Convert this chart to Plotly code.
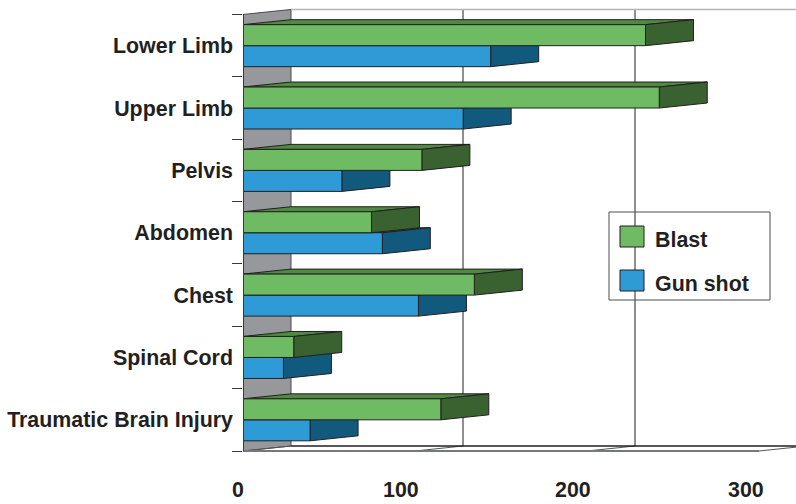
import plotly.graph_objects as go

categories = ["Traumatic Brain Injury", "Spinal Cord", "Chest", "Abdomen", "Pelvis", "Upper Limb", "Lower Limb"]
blast = [115, 29.5, 134.5, 74.7, 104, 242, 234]
gun_shot = [39, 23.5, 102, 81, 57.5, 128, 144]
x_ticks = [0, 100, 200, 300]
x_label_shift = [-5, -14, -14, -13]

PX_X = 1.72
PX_Y = 62.36
FLOOR_Y = 451
LEFT = 243
DX = 48 / PX_X
DY = 5 / PX_Y
BAR_H = 21 / PX_Y
INK = "#231f20"
TOP = 8
BOTTOM = 456
W, H = 796, 504
FONT_SIZE = 21.4

fig = go.Figure()


def poly(xs, ys, fill, line=INK, lw=1.0):
    fig.add_trace(go.Scatter(x=xs + xs[:1], y=ys + ys[:1], mode="lines", fill="toself", fillcolor=fill,
                             line=dict(color=line, width=lw), showlegend=False, hoverinfo="skip",
                             cliponaxis=False))


def seg(xs, ys, color=INK, lw=1.0):
    fig.add_trace(go.Scatter(x=xs, y=ys, mode="lines", line=dict(color=color, width=lw),
                             showlegend=False, hoverinfo="skip", cliponaxis=False))


n = len(categories)
# side wall
poly([0, DX, DX, 0], [0, DY, n + DY, n], "#97989b", "#4a4a4c", 1)
# back wall gridlines and floor
for t in x_ticks:
    if t:
        seg([t + DX, t + DX], [DY, n + DY], INK, 1)
    seg([t, t + DX], [0, DY], "#55565a", 1)
seg([DX, x_ticks[-1] + DX], [DY, DY], INK, 1.5)
seg([DX, x_ticks[-1] + DX], [n + DY, n + DY], "#b5b5b5", 1.5)
seg([0, x_ticks[-1]], [0, 0], "#77787b", 2)


def bar(v, y0, y1, front, top, side):
    poly([0, DX, v + DX, v], [y1, y1 + DY, y1 + DY, y1], top)
    poly([v, v + DX, v + DX, v], [y0, y0 + DY, y1 + DY, y1], side)
    poly([0, v, v, 0], [y0, y0, y1, y1], front)


for i in range(n):
    c = i + 0.5
    bar(gun_shot[i], c - BAR_H, c, "#2f9bd6", "#1d7199", "#125a7d")
    bar(blast[i], c, c + BAR_H, "#6fbb63", "#4f8a42", "#3a6130")

seg([0, 0], [0, n], "#3a3a3c", 2)

fig.update_layout(
    width=W, height=H, autosize=False,
    margin=dict(l=LEFT, r=0, t=TOP, b=H - BOTTOM, pad=0),
    paper_bgcolor="white", plot_bgcolor="rgba(0,0,0,0)",
    font=dict(family="Liberation Sans", color=INK),
    showlegend=False,
    xaxis=dict(range=[0, (W - LEFT) / PX_X], showgrid=False, zeroline=False, showticklabels=False, ticks=""),
    yaxis=dict(range=[(FLOOR_Y - BOTTOM) / PX_Y, (FLOOR_Y - TOP) / PX_Y], showgrid=False, zeroline=False,
               tickmode="array", tickvals=[i + 0.5 for i in range(n)], ticktext=categories,
               ticks="", ticklabelstandoff=9,
               tickfont=dict(family="Liberation Sans", size=FONT_SIZE, color=INK, weight="bold"),
               minor=dict(tickmode="array", tickvals=list(range(n + 1)), ticks="outside", ticklen=10,
                          tickcolor="#3a3a3c", tickwidth=1, showgrid=False)),
)

for t, s in zip(x_ticks, x_label_shift):
    fig.add_annotation(x=t, y=(BOTTOM - 489.5) / (BOTTOM - TOP), xref="x", yref="paper", text=f"<b>{t}</b>",
                       showarrow=False, xshift=s, yanchor="middle",
                       font=dict(size=FONT_SIZE, color=INK, family="Liberation Sans"))

# legend
y_of = lambda p: (FLOOR_Y - p) / PX_Y
x_of = lambda p: (p - LEFT) / PX_X
fig.add_shape(type="rect", xref="x", yref="y", x0=x_of(609), x1=x_of(770), y0=y_of(212), y1=y_of(300),
              line=dict(color="#4d4d4f", width=1), fillcolor="rgba(0,0,0,0)")
for name, col, y0, y1 in [("Blast", "#6fbb63", 226, 247), ("Gun shot", "#2f9bd6", 270, 291)]:
    fig.add_shape(type="rect", xref="x", yref="y", x0=x_of(620), x1=x_of(644), y0=y_of(y0), y1=y_of(y1),
                  line=dict(color=INK, width=1), fillcolor=col)
    fig.add_annotation(x=x_of(653), y=y_of((y0 + y1) / 2 + 3.5), xref="x", yref="y", text=f"<b>{name}</b>",
                       showarrow=False, xanchor="left", yanchor="middle",
                       font=dict(size=FONT_SIZE, color=INK, family="Liberation Sans"))

fig.write_html("out.html", post_script="document.body.style.margin='0';", config=dict(displayModeBar=False))
